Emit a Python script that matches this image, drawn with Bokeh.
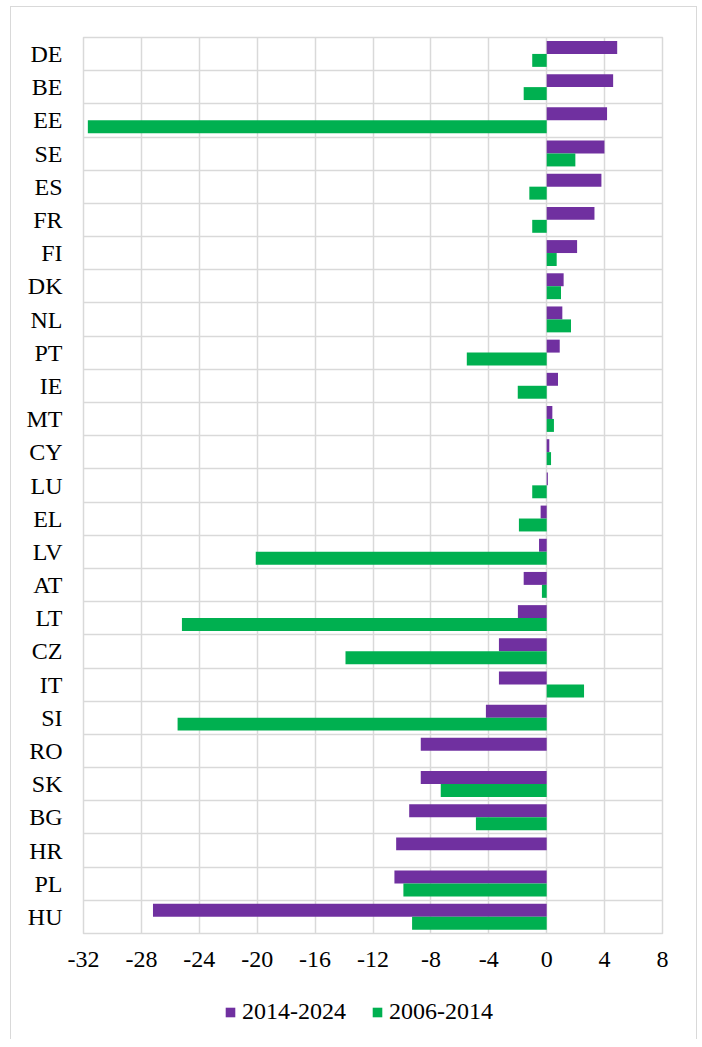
from bokeh.plotting import figure
from bokeh.models import FactorRange, FixedTicker, Legend, LegendItem, ColumnDataSource, Range1d
from bokeh.layouts import column
from bokeh.transform import dodge
from bokeh.embed import file_html
from bokeh.resources import INLINE

countries = ["DE", "BE", "EE", "SE", "ES", "FR", "FI", "DK", "NL", "PT", "IE", "MT", "CY",
             "LU", "EL", "LV", "AT", "LT", "CZ", "IT", "SI", "RO", "SK", "BG", "HR", "PL", "HU"]
v_2014_2024 = [4.87, 4.59, 4.17, 3.99, 3.78, 3.30, 2.10, 1.17, 1.08, 0.90, 0.78, 0.39, 0.18,
               0.08, -0.42, -0.53, -1.59, -1.99, -3.30, -3.30, -4.20, -8.70, -8.70, -9.50,
               -10.40, -10.52, -27.20]
v_2006_2014 = [-1.0, -1.59, -31.7, 1.98, -1.2, -1.0, 0.69, 0.99, 1.68, -5.52, -2.0, 0.5, 0.3,
               -1.0, -1.92, -20.1, -0.33, -25.2, -13.9, 2.58, -25.5, 0.0, -7.32, -4.89,
               0.0, -9.9, -9.3]
series_names = ["2014-2024", "2006-2014"]
x_ticks = [-32, -28, -24, -20, -16, -12, -8, -4, 0, 4, 8]
x_tick_labels = ["-32", "-28", "-24", "-20", "-16", "-12", "-8", "-4", "0", "4", "8"]

PURPLE = "#7030A0"
GREEN = "#00B050"
GRID = "#D9D9D9"
FONT = "Liberation Serif"
FS = "24px"

src = ColumnDataSource(dict(country=countries, a=v_2014_2024, b=v_2006_2014))

p = figure(width=685, height=976, output_backend="svg", toolbar_location=None,
           y_range=FactorRange(factors=countries[::-1], range_padding=0),
           x_range=(x_ticks[0], x_ticks[-1]))
p.min_border_left = 72
p.min_border_right = 34
p.min_border_top = 30
p.min_border_bottom = 50

r1 = p.hbar(y=dodge("country", 0.2, range=p.y_range), right="a", left=0, height=0.39,
            source=src, fill_color=PURPLE, line_color=None)
r2 = p.hbar(y=dodge("country", -0.19, range=p.y_range), right="b", left=0, height=0.39,
            source=src, fill_color=GREEN, line_color=None)
r1.level = "overlay"
r2.level = "overlay"

p.outline_line_color = GRID
p.outline_line_width = 1.5

p.xgrid.ticker = FixedTicker(ticks=x_ticks)
p.xgrid.grid_line_color = GRID
p.xgrid.grid_line_width = 1.5
p.ygrid.ticker = FixedTicker(ticks=list(range(len(countries) + 1)))
p.ygrid.grid_line_color = GRID
p.ygrid.grid_line_width = 1.5

p.xaxis.ticker = FixedTicker(ticks=x_ticks)
p.xaxis.major_label_overrides = {t: l for t, l in zip(x_ticks, x_tick_labels)}
for ax in (p.xaxis, p.yaxis):
    ax.axis_line_color = None
    ax.major_tick_line_color = None
    ax.minor_tick_line_color = None
    ax.major_tick_out = 0
    ax.major_tick_in = 0
    ax.major_label_text_font = FONT
    ax.major_label_text_font_size = FS
    ax.major_label_text_color = "#000000"
p.xaxis.major_label_standoff = 18
p.yaxis.major_label_standoff = 21

# legend strip below the chart (proxy renderers: zero-length bars, invisible)
p2 = figure(width=685, height=56, output_backend="svg", toolbar_location=None,
            x_range=Range1d(0, 1), y_range=Range1d(0, 1), min_border=0,
            x_axis_location=None, y_axis_location=None)
p2.grid.visible = False
p2.outline_line_color = None
proxy = ColumnDataSource(dict(y=[0.5], v=[0.0]))
l1 = p2.hbar(y="y", right="v", left="v", height=0.01, source=proxy,
             fill_color=PURPLE, line_color=None)
l2 = p2.hbar(y="y", right="v", left="v", height=0.01, source=proxy,
             fill_color=GREEN, line_color=None)

legend = Legend(items=[LegendItem(label=series_names[0], renderers=[l1]),
                       LegendItem(label=series_names[1], renderers=[l2])],
                orientation="horizontal", location=(141, 14))
legend.border_line_color = None
legend.background_fill_alpha = 0
legend.label_text_font = FONT
legend.label_text_font_size = FS
legend.label_text_color = "#000000"
legend.label_height = 24
legend.glyph_width = 12
legend.glyph_height = 12
legend.label_standoff = 6
legend.spacing = 25
legend.padding = 0
legend.margin = 0
p2.add_layout(legend, "center")

lay = column(p, p2, spacing=0)
lay.styles = {"margin-left": "10px", "margin-top": "6px",
              "border-top": "1.5px solid #D9D9D9", "border-left": "1.5px solid #D9D9D9",
              "border-right": "1.5px solid #D9D9D9"}

open("out.html", "w").write(file_html(lay, INLINE))
